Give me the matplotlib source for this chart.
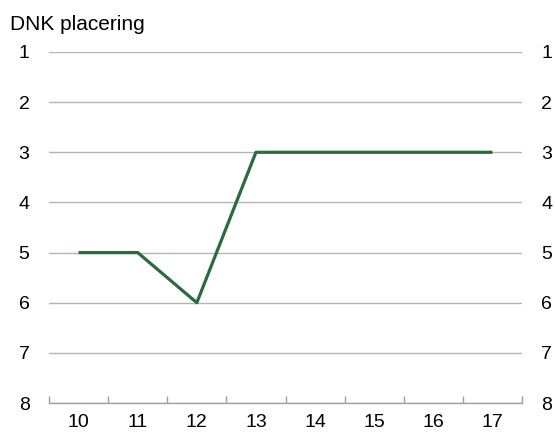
import matplotlib
matplotlib.use("Agg")
import matplotlib.pyplot as plt
import numpy as np

years = ["10", "11", "12", "13", "14", "15", "16", "17"]
placering = [5, 5, 6, 3, 3, 3, 3, 3]
y_ticks = [1, 2, 3, 4, 5, 6, 7, 8]

plt.rcParams["font.family"] = ["Liberation Sans", "DejaVu Sans"]
plt.rcParams["font.size"] = 14

fig = plt.figure(figsize=(5.55, 4.37), dpi=100)
ax = fig.add_axes([49 / 555, 1 - 403 / 437, (522 - 49) / 555, (403 - 52) / 437])

x = np.arange(len(years))
ax.plot(x, placering, color="#2a6a3e", linewidth=2.3, solid_capstyle="butt", zorder=3)

ax.set_ylim(8, 1)
ax.set_xlim(-0.5, len(years) - 0.5)
ax.set_yticks(y_ticks)
ax.set_yticklabels([str(v) for v in y_ticks])
ax.yaxis.grid(True, color="#b4b4b4", linewidth=1)
ax.tick_params(axis="y", length=0, pad=14, labelsize=14, labelright=True)

# x ticks between categories, labels at category centres
ax.set_xticks(np.arange(-0.5, len(years), 1.0))
ax.set_xticklabels([])
ax.set_xticks(x, minor=True)
ax.set_xticklabels(years, minor=True)
ax.tick_params(axis="x", which="major", direction="in", length=5, color="#a0a0a0", width=1)
ax.tick_params(axis="x", which="minor", length=0, pad=8, labelsize=14)

for s in ["top", "left", "right"]:
    ax.spines[s].set_visible(False)
ax.spines["bottom"].set_color("#a0a0a0")
ax.spines["bottom"].set_linewidth(1)

fig.text(10 / 555, 1 - 24 / 437, "DNK placering", ha="left", va="center", fontsize=15)

fig.savefig("out.png", dpi=100)
